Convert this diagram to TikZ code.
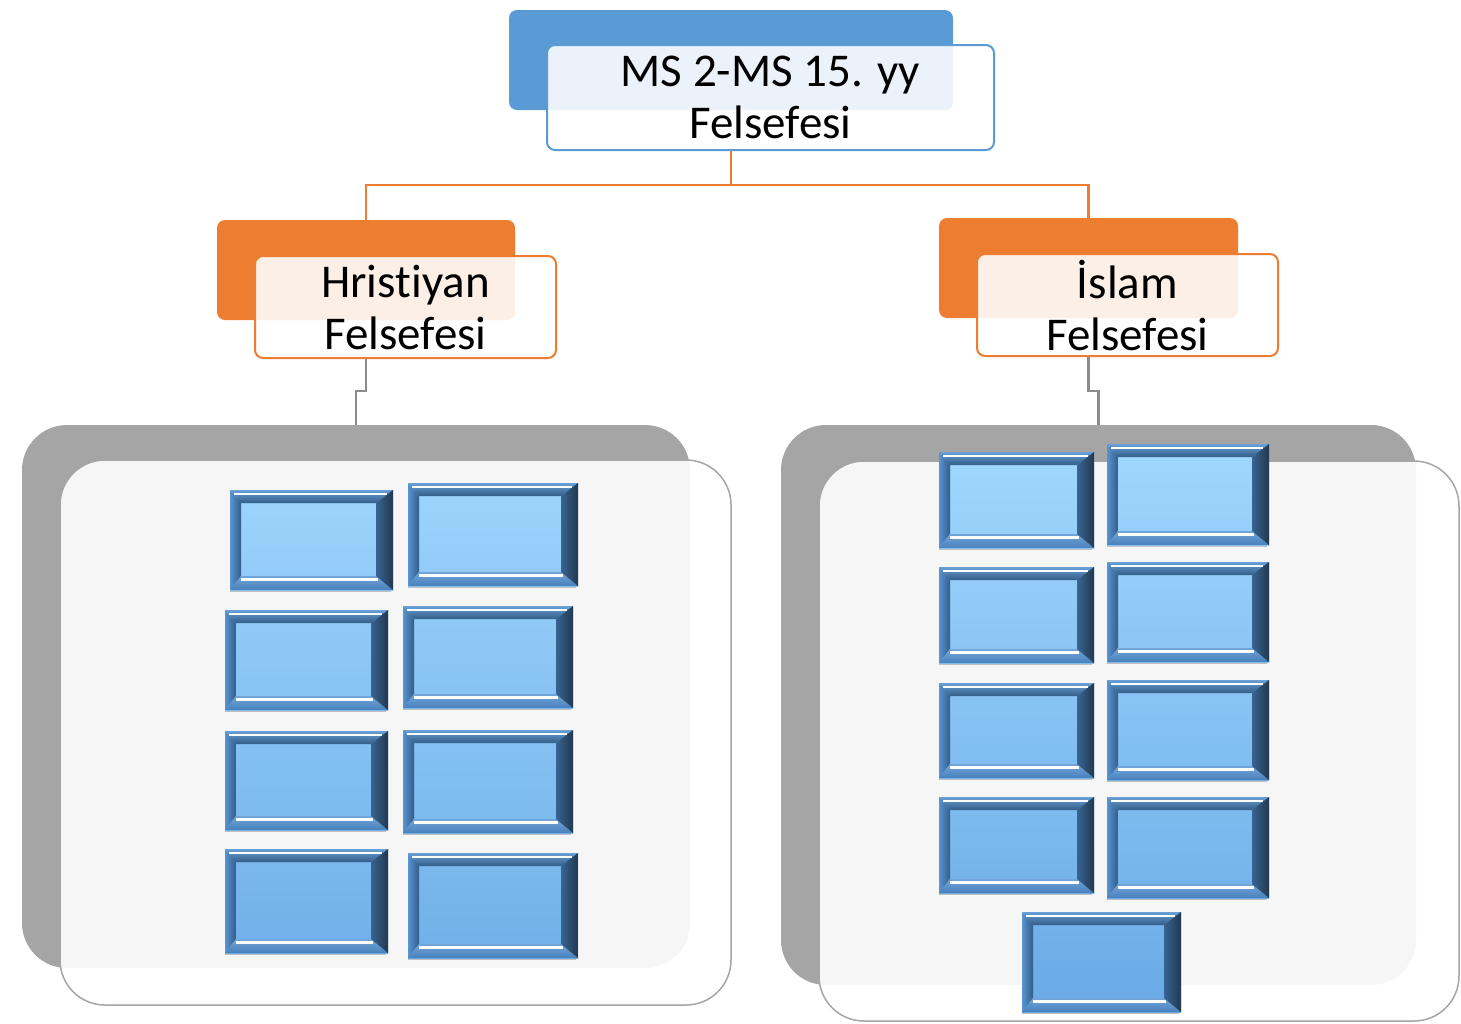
\documentclass[tikz,border=0pt]{standalone}
\usepackage{fontspec}
\setmainfont{Carlito}[Ligatures=NoCommon]
\usepackage{tikz}
\usepackage{xcolor}
\definecolor{accBlue}{HTML}{5B9BD5}
\definecolor{accOrange}{HTML}{ED7D31}
\definecolor{accGray}{HTML}{A5A5A5}
\definecolor{tileLight}{HTML}{A3DAFF}
\definecolor{tileDeep}{HTML}{5A9DDF}
\definecolor{tileSide}{HTML}{4F8FD0}
\definecolor{tileEdge}{HTML}{22384F}
\tikzstyle{backbox}=[rounded corners=8pt, inner sep=0pt]
\tikzstyle{frontbox}=[draw, rounded corners=8pt, fill=white, fill opacity=0.88, text opacity=1, line width=2pt, align=center, inner sep=0pt, font=\fontsize{47}{52}\selectfont]
\tikzstyle{panelback}=[fill=accGray, rounded corners=45pt, inner sep=0pt]
\tikzstyle{panelfront}=[draw=accGray, fill=white, fill opacity=0.9, rounded corners=45pt, line width=1.5pt, inner sep=0pt]
\tikzstyle{orangelink}=[draw=accOrange, line width=2.5pt]
\tikzstyle{graylink}=[draw=accGray!85!black, line width=2.5pt]
\newcommand{\bevelTile}[6]{
	\shade[top color=tileLight!#5!tileDeep, bottom color=tileLight!#6!tileDeep] (#1,#2) rectangle (#3,#4);
	\shade[left color=tileSide!95!white, right color=tileSide!65!black] (#1,#2) -- ({#1+11},{#2+13}) -- ({#1+11},{#4-14}) -- (#1,#4) -- cycle;
	\shade[top color=tileSide!85!white, bottom color=tileSide!65!black] (#1,#2) -- (#3,#2) -- ({#3-17},{#2+13}) -- ({#1+11},{#2+13}) -- cycle;
	\shade[top color=tileSide!80!white, bottom color=tileSide!90!black] (#1,#4) -- (#3,#4) -- ({#3-17},{#4-14}) -- ({#1+11},{#4-14}) -- cycle;
	\shade[left color=tileSide!70!black, right color=tileEdge] (#3,#2) -- (#3,#4) -- ({#3-17},{#4-14}) -- ({#3-17},{#2+13}) -- cycle;
	\draw[white, line width=2pt] ({#1+4},{#2+4}) -- ({#3-6},{#2+4});
	\draw[white, line width=3pt] ({#1+11},{#4-11}) -- ({#3-15},{#4-11});
	\draw[gray!50, line width=1pt] (#1,{#4+1}) -- ({#3-2},{#4+1});
}

\begin{document}
\begin{tikzpicture}[x=1pt,y=-1pt]
	\useasboundingbox (0,0) rectangle (1461,1023);
	% headings
	\node[backbox, fill=accBlue, minimum width=444, minimum height=100] (topback) at (731,60) {};
	\node[frontbox, draw=accBlue, minimum width=447, minimum height=105] (topfront) at (770.5,97.5) {MS 2-MS 15. yy\\Felsefesi};
	\node[backbox, fill=accOrange, minimum width=298, minimum height=100] (hrisback) at (366,270) {};
	\node[frontbox, draw=accOrange, minimum width=301, minimum height=102] (hrisfront) at (405.5,307) {Hristiyan\\Felsefesi};
	\node[backbox, fill=accOrange, minimum width=299, minimum height=100] (islamback) at (1088.5,268) {};
	\node[frontbox, draw=accOrange, minimum width=301, minimum height=102] (islamfront) at (1127.5,305) {İslam\\Felsefesi};
	% panels
	\node[panelback, minimum width=668, minimum height=543] (hrispanel) at (356,696.5) {};
	\node[panelfront, minimum width=671, minimum height=545] (hrisfrontpanel) at (395.5,732.5) {};
	\node[panelback, minimum width=635, minimum height=560] (islampanel) at (1098.5,705) {};
	\node[panelfront, minimum width=640, minimum height=560] (islamfrontpanel) at (1139,741) {};
	% links
	\draw[orangelink] (topback.center |- topfront.south) -- ++(0,34) coordinate (split) -| (hrisback.north);
	\draw[orangelink] (split) -| (islamback.north);
	\draw[graylink] (hrisback.center |- hrisfront.south) -- ++(0,32) -| (hrispanel.north);
	\draw[graylink] (islamback.center |- islamfront.south) -- ++(0,34) -| (islampanel.north);
	% tiles
	\bevelTile{230}{490}{393}{590}{90}{75}
	\bevelTile{408}{483}{578}{586}{90}{75}
	\bevelTile{225}{610}{388}{710}{75}{60}
	\bevelTile{403}{606}{573}{708}{75}{60}
	\bevelTile{225}{731}{388}{830}{60}{45}
	\bevelTile{403}{730}{573}{833}{60}{45}
	\bevelTile{225}{849}{388}{953}{45}{30}
	\bevelTile{408}{853}{578}{958}{45}{30}
	\bevelTile{939}{452}{1094}{548}{95}{80}
	\bevelTile{1107}{444}{1269}{545}{95}{80}
	\bevelTile{939}{567}{1094}{663}{80}{65}
	\bevelTile{1107}{562}{1269}{662}{80}{65}
	\bevelTile{939}{683}{1094}{778}{65}{50}
	\bevelTile{1107}{680}{1269}{780}{65}{50}
	\bevelTile{939}{797}{1094}{893}{50}{35}
	\bevelTile{1107}{797}{1269}{898}{50}{35}
	\bevelTile{1022}{912}{1181}{1012}{35}{20}
\end{tikzpicture}
\end{document}
